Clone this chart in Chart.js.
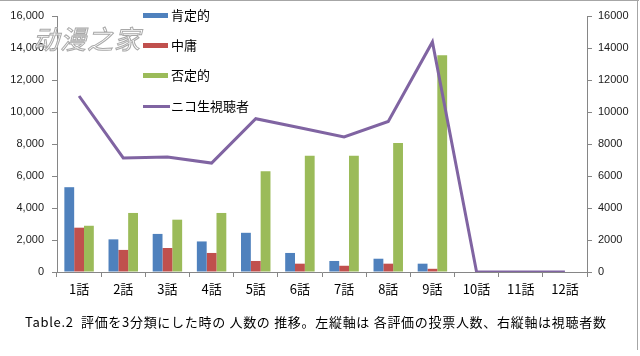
<!DOCTYPE html>
<html>
<head>
<meta charset="utf-8">
<script src="https://cdn.jsdelivr.net/npm/chart.js@4.4.1/dist/chart.umd.min.js"></script>
<style>
  html, body { margin: 0; padding: 0; background: #fff; }
  #wrap { position: relative; width: 640px; height: 356px; overflow: hidden; background: #fff; }
  #c { position: absolute; left: 0; top: 0; }
  #frameTop { position: absolute; left: 0; top: 0; width: 639px; height: 1px; border-top: 1.5px solid #a6a6a6; }
  #frameRight { position: absolute; left: 637px; top: 0; width: 0; height: 350px; border-left: 1.5px solid #a6a6a6; }
  #legend { position: absolute; left: 143px; top: 0; font-family: "Noto Sans CJK JP", sans-serif; font-size: 13px; color: #000; }
  .li { position: absolute; left: 0; white-space: nowrap; height: 16px; line-height: 16px; }
  .sw { position: absolute; left: 0; width: 25px; }
  .lt { position: absolute; left: 28px; top: 0; }
  #caption { position: absolute; left: 25px; top: 313px; font-family: "Noto Sans CJK JP", sans-serif; font-size: 13px; letter-spacing: 0.7px; color: #000; white-space: nowrap; line-height: 18px; }
  #wm { position: absolute; left: 33px; top: 20px; font-family: "Noto Sans CJK SC", sans-serif; font-size: 26px; font-style: italic; color: rgba(255,255,255,0.85); -webkit-text-stroke: 1px #a8a8a8; letter-spacing: 1px; white-space: nowrap; line-height: 36px; }
</style>
</head>
<body>
<div id="wrap">
  <canvas id="c" width="640" height="356"></canvas>
  <div id="frameTop"></div>
  <div id="frameRight"></div>
  <div id="legend"></div>
  <div id="wm">动漫之家</div>
  <div id="caption">Table.2&nbsp; 評価を3分類にした時の 人数の 推移。左縦軸は 各評価の投票人数、右縦軸は視聴者数</div>
</div>
<script>
const categories = ['1話','2話','3話','4話','5話','6話','7話','8話','9話','10話','11話','12話'];
const seriesNames = ['肯定的','中庸','否定的','ニコ生視聴者'];
const positive = [5300, 2040, 2380, 1910, 2450, 1190, 690, 830, 520, 0, 0, 0];
const neutral  = [2770, 1380, 1500, 1190, 690, 520, 390, 520, 200, 0, 0, 0];
const negative = [2890, 3690, 3270, 3690, 6290, 7270, 7270, 8060, 13540, 0, 0, 0];
const viewers  = [11000, 7130, 7190, 6810, 9580, 9020, 8440, 9410, 14380, 0, 0, 0];
const leftTicks = [0, 2000, 4000, 6000, 8000, 10000, 12000, 14000, 16000];

const colors = ['#4F81BD', '#C0504D', '#9BBB59', '#8064A2'];

// HTML legend
const legend = document.getElementById('legend');
const rowTops = [7, 37, 67, 98];
seriesNames.forEach((n, i) => {
  const d = document.createElement('div');
  d.className = 'li';
  d.style.top = rowTops[i] + 'px';
  const sw = document.createElement('span');
  sw.className = 'sw';
  if (i < 3) { sw.style.top = '6px'; sw.style.height = '5px'; sw.style.background = colors[i]; }
  else { sw.style.top = '7px'; sw.style.height = '3px'; sw.style.background = colors[i]; sw.style.width = '27px'; }
  const t = document.createElement('span');
  t.className = 'lt';
  t.textContent = n;
  d.appendChild(sw); d.appendChild(t);
  legend.appendChild(d);
});

const axisGray = '#868686';
const tickFont = { family: '"Liberation Sans", Arial, sans-serif', size: 11 };

new Chart(document.getElementById('c'), {
  data: {
    labels: categories,
    datasets: [
      { type: 'line', label: seriesNames[3], data: viewers, yAxisID: 'y1', borderColor: colors[3], backgroundColor: colors[3], borderWidth: 3, pointRadius: 0, tension: 0, order: 0 },
      { type: 'bar', label: seriesNames[0], data: positive, yAxisID: 'y', backgroundColor: colors[0], order: 1 },
      { type: 'bar', label: seriesNames[1], data: neutral, yAxisID: 'y', backgroundColor: colors[1], order: 1 },
      { type: 'bar', label: seriesNames[2], data: negative, yAxisID: 'y', backgroundColor: colors[2], order: 1 }
    ]
  },
  options: {
    responsive: false,
    animation: false,
    devicePixelRatio: 1,
    layout: { padding: { top: 16, left: 0, right: 0, bottom: 0 } },
    datasets: { bar: { categoryPercentage: 0.667, barPercentage: 1.0 } },
    plugins: { legend: { display: false }, tooltip: { enabled: false } },
    scales: {
      x: {
        offset: true,
        grid: { offset: true, drawOnChartArea: false, drawTicks: true, tickLength: 5, color: axisGray },
        border: { display: true, color: axisGray },
        ticks: { color: '#000', padding: 4, font: { family: '"Noto Sans CJK JP", sans-serif', size: 13 }, maxRotation: 0, autoSkip: false },
        afterFit: (s) => { s.height = 84; }
      },
      y: {
        position: 'left',
        min: 0, max: 16000,
        afterBuildTicks: (s) => { s.ticks = leftTicks.map(v => ({ value: v })); },
        grid: { drawOnChartArea: false, drawTicks: true, tickLength: 5, color: axisGray },
        border: { display: true, color: axisGray },
        ticks: { color: '#1a1a1a', padding: 8, font: tickFont, callback: (v) => v.toLocaleString('en-US') },
        afterFit: (s) => { s.width = 57; }
      },
      y1: {
        position: 'right',
        min: 0, max: 16000,
        afterBuildTicks: (s) => { s.ticks = leftTicks.map(v => ({ value: v })); },
        grid: { drawOnChartArea: false, drawTicks: true, tickLength: 5, color: axisGray },
        border: { display: true, color: axisGray },
        ticks: { color: '#1a1a1a', padding: 6, font: tickFont, callback: (v) => String(v) },
        afterFit: (s) => { s.width = 53; }
      }
    }
  }
});
</script>
</body>
</html>
